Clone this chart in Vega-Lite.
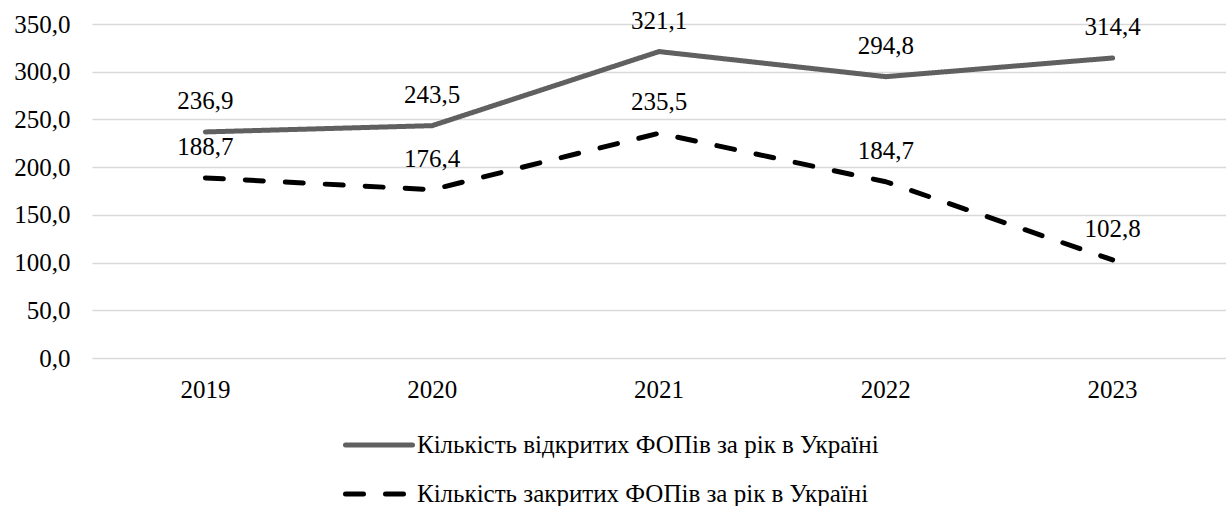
{
  "$schema": "https://vega.github.io/schema/vega-lite/v6.json",
  "width": 1134,
  "height": 334,
  "autosize": {"type": "none"},
  "padding": {"left": 92, "top": 24, "right": 0, "bottom": 148},
  "config": {
    "locale": {"number": {"decimal": ",", "thousands": " ", "grouping": [3], "currency": ["", ""]}},
    "font": "Liberation Serif",
    "view": {"stroke": null},
    "axis": {"labelFont": "Liberation Serif", "labelFontSize": 25, "labelColor": "#000000"},
    "legend": {"labelFont": "Liberation Serif", "labelFontSize": 25, "labelColor": "#000000"}
  },
  "data": {
    "values": [
      {"year": "2019", "series": "Кількість відкритих ФОПів за рік в Україні", "value": 236.9},
      {"year": "2020", "series": "Кількість відкритих ФОПів за рік в Україні", "value": 243.5},
      {"year": "2021", "series": "Кількість відкритих ФОПів за рік в Україні", "value": 321.1},
      {"year": "2022", "series": "Кількість відкритих ФОПів за рік в Україні", "value": 294.8},
      {"year": "2023", "series": "Кількість відкритих ФОПів за рік в Україні", "value": 314.4},
      {"year": "2019", "series": "Кількість закритих ФОПів за рік в Україні", "value": 188.7},
      {"year": "2020", "series": "Кількість закритих ФОПів за рік в Україні", "value": 176.4},
      {"year": "2021", "series": "Кількість закритих ФОПів за рік в Україні", "value": 235.5},
      {"year": "2022", "series": "Кількість закритих ФОПів за рік в Україні", "value": 184.7},
      {"year": "2023", "series": "Кількість закритих ФОПів за рік в Україні", "value": 102.8}
    ]
  },
  "encoding": {
    "x": {
      "field": "year", "type": "ordinal", "title": null,
      "scale": {"type": "band", "paddingInner": 0, "paddingOuter": 0},
      "axis": {"labelAngle": 0, "ticks": false, "domain": false, "grid": false, "labelPadding": 19}
    },
    "y": {
      "field": "value", "type": "quantitative", "title": null,
      "scale": {"domain": [0, 350], "nice": false},
      "axis": {"values": [0, 50, 100, 150, 200, 250, 300, 350], "format": ".1f", "ticks": false, "domain": false,
               "labelPadding": 22, "gridColor": "#d9d9d9", "gridWidth": 1.5}
    }
  },
  "layer": [
    {
      "mark": {"type": "line", "strokeCap": "round", "strokeJoin": "round", "strokeWidth": 5},
      "encoding": {
        "color": {
          "field": "series", "type": "nominal", "title": null,
          "scale": {"range": ["#606060", "#000000"]},
          "legend": {
            "orient": "none", "legendX": 251, "legendY": 385, "direction": "vertical",
            "symbolType": "stroke", "symbolSize": 4489, "symbolStrokeWidth": 5,
            "labelOffset": 2, "rowPadding": -10, "labelLimit": 800,
            "encode": {"symbols": {"update": {"strokeCap": {"value": "round"}}}}
          }
        },
        "strokeDash": {
          "field": "series", "type": "nominal", "title": null,
          "scale": {"range": [[1, 0], [18, 22]]}
        }
      }
    },
    {
      "mark": {"type": "text", "dy": -23, "baseline": "alphabetic", "fontSize": 25, "font": "Liberation Serif", "color": "#000000"},
      "encoding": {
        "text": {"field": "value", "type": "quantitative", "format": ".1f"}
      }
    }
  ]
}
